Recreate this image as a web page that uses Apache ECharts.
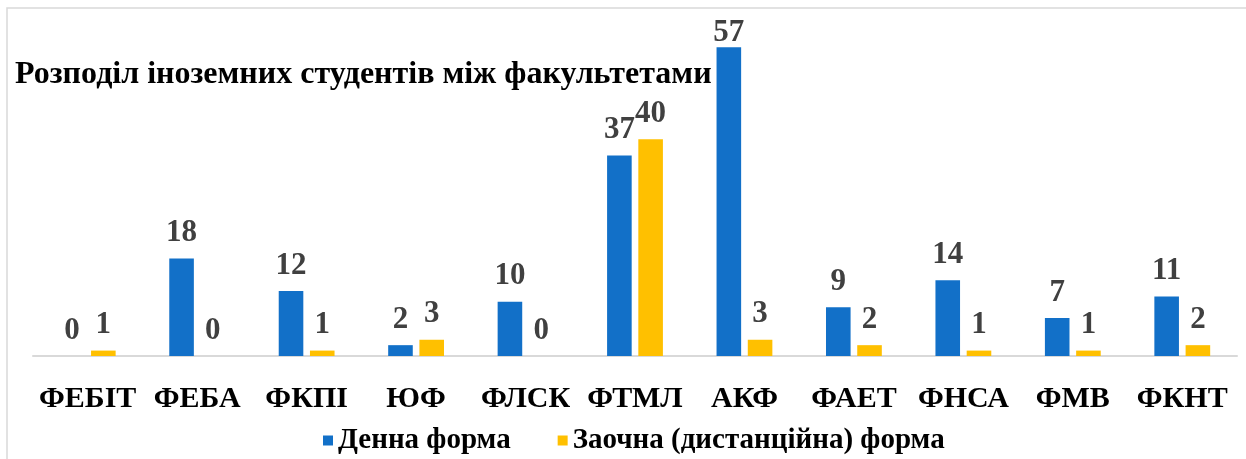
<!DOCTYPE html>
<html>
<head>
<meta charset="utf-8">
<script src="https://cdn.jsdelivr.net/npm/echarts@6/dist/echarts.min.js"></script>
<style>
  html, body { margin: 0; padding: 0; background: #ffffff; }
  #chart { width: 1246px; height: 459px; }
</style>
</head>
<body>
<div id="chart"></div>
<script>
const titleText = 'Розподіл іноземних студентів між факультетами';
const categories = ['ФЕБІТ', 'ФЕБА', 'ФКПІ', 'ЮФ', 'ФЛСК', 'ФТМЛ', 'АКФ', 'ФАЕТ', 'ФНСА', 'ФМВ', 'ФКНТ'];
const seriesNames = ['Денна форма', 'Заочна (дистанційна) форма'];
const fullTime = [0, 18, 12, 2, 10, 37, 57, 9, 14, 7, 11];
const partTime = [1, 0, 1, 3, 0, 40, 3, 2, 1, 1, 2];

const SERIF = '"Liberation Serif", "Times New Roman", serif';
const yMax = 60;

function buildData(arr) {
  return arr.map(function (v) {
    // a label that would leave the plot area is pulled down closer to its bar
    if (v > 55) return { value: v, label: { distance: -1 } };
    return v;
  });
}

const labelStyle = {
  show: true,
  position: 'top',
  distance: 10,
  color: '#404040',
  fontFamily: SERIF,
  fontWeight: 'bold',
  fontSize: 31
};

const chart = echarts.init(document.getElementById('chart'), null, { renderer: 'canvas' });
chart.setOption({
  animation: false,
  backgroundColor: '#ffffff',
  graphic: [{
    type: 'rect',
    shape: { x: 7, y: 8, width: 1260, height: 470 },
    style: { fill: 'none', stroke: '#d9d9d9', lineWidth: 1.5 },
    silent: true,
    z: -1
  }],
  title: {
    text: titleText,
    left: 10,
    top: 54,
    textStyle: { fontFamily: SERIF, fontWeight: 'bold', fontSize: 32, color: '#000000' }
  },
  legend: {
    data: seriesNames,
    bottom: -1,
    left: 318,
    itemWidth: 10,
    itemHeight: 10,
    itemGap: 47,
    icon: 'rect',
    textStyle: { fontFamily: SERIF, fontWeight: 'bold', fontSize: 29, color: '#000000' }
  },
  grid: { left: 33, right: 9, top: 31, bottom: 103, containLabel: false },
  xAxis: {
    type: 'category',
    data: categories,
    axisLine: { show: true, lineStyle: { color: '#d9d9d9', width: 2 } },
    axisTick: { show: false },
    axisLabel: { margin: 28, fontFamily: SERIF, fontWeight: 'bold', fontSize: 30, color: '#000000', interval: 0 }
  },
  yAxis: {
    type: 'value',
    min: 0,
    max: yMax,
    show: false,
    splitLine: { show: false }
  },
  series: [{
    name: seriesNames[0],
    type: 'bar',
    data: buildData(fullTime),
    itemStyle: { color: '#1270C8' },
    barGap: '27%',
    barCategoryGap: '49%',
    label: labelStyle
  }, {
    name: seriesNames[1],
    type: 'bar',
    data: buildData(partTime),
    itemStyle: { color: '#FFC000' },
    barGap: '27%',
    barCategoryGap: '49%',
    label: labelStyle
  }]
});
</script>
</body>
</html>
